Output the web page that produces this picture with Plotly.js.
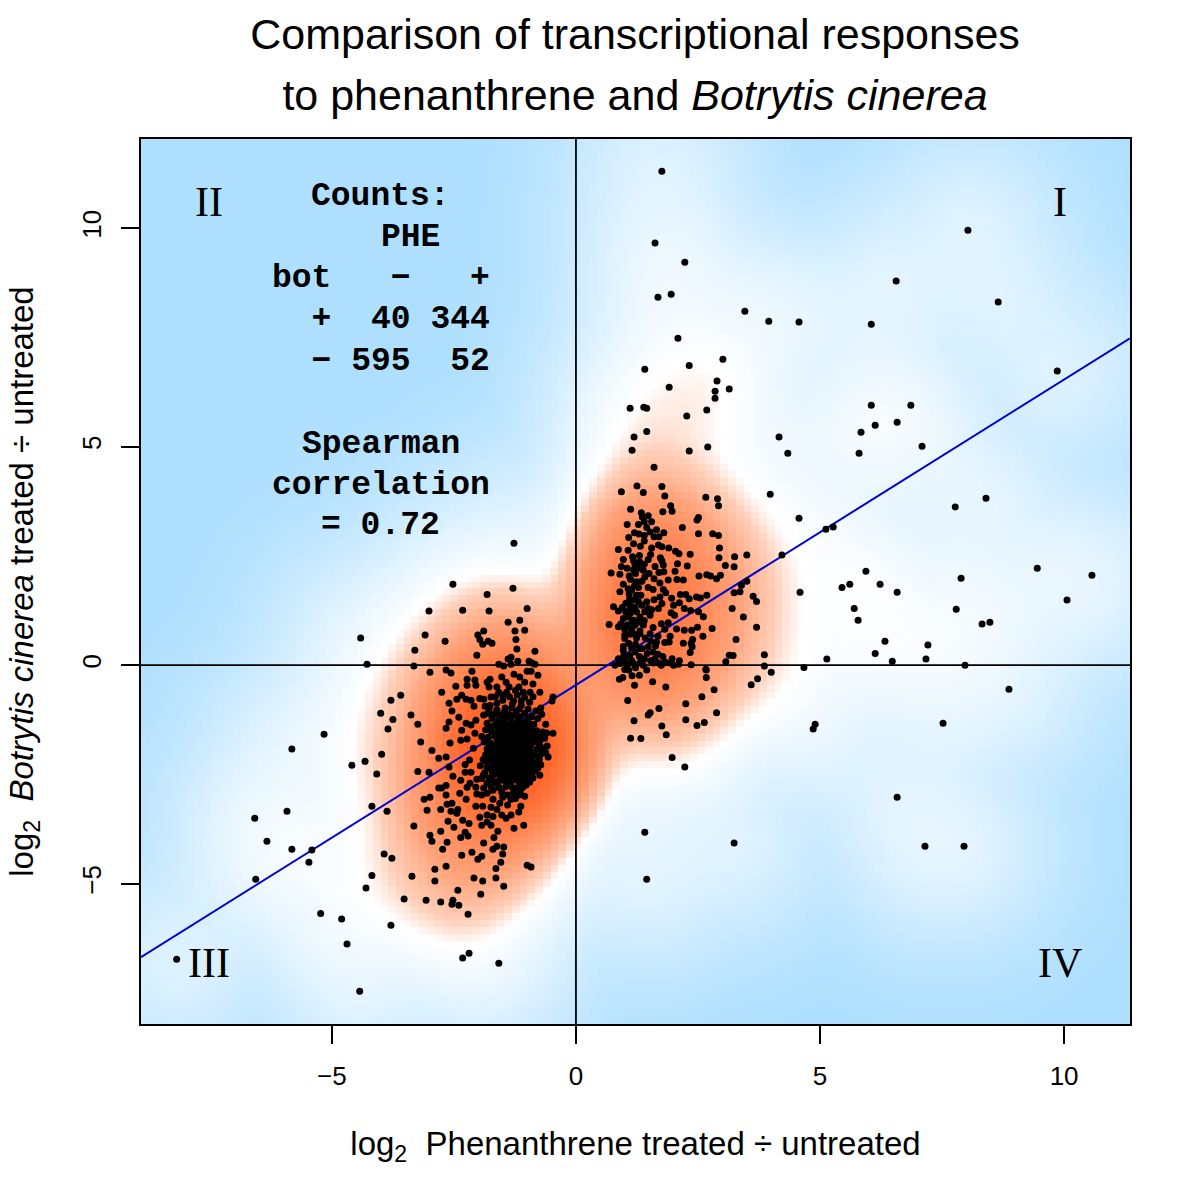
<!DOCTYPE html>
<html><head><meta charset="utf-8">
<script src="https://cdn.plot.ly/plotly-3.0.1.min.js"></script>
<style>html,body{margin:0;padding:0;background:#fff}</style></head>
<body><div id="g" style="width:1200px;height:1200px"></div>
<script>
const sparsePoints=[[1.76,11.30],[1.62,9.66],[2.23,9.22],[1.68,8.42],[1.95,8.49],[6.56,8.79],[8.03,9.95],[8.65,8.31],[3.46,8.10],[3.95,7.87],[4.57,7.85],[6.05,7.80],[2.09,7.48],[2.32,6.86],[1.41,6.77],[3.01,7.00],[9.86,6.73],[2.89,6.50],[3.14,6.32],[1.91,6.36],[2.85,6.27],[2.85,6.11],[2.68,5.84],[2.27,5.70],[1.11,5.88],[1.39,5.90],[1.45,5.88],[1.45,5.35],[1.19,5.22],[1.15,4.92],[2.32,4.90],[2.70,4.99],[1.60,4.53],[4.16,5.22],[4.34,4.85],[6.05,5.95],[5.84,5.33],[6.13,5.49],[6.58,5.56],[6.86,5.95],[7.09,5.01],[5.80,4.85],[3.98,3.91],[4.57,3.36],[7.77,3.62],[8.40,3.82],[5.12,3.11],[5.27,3.16],[4.22,2.52],[4.59,1.67],[9.45,2.22],[10.57,2.06],[10.06,1.49],[5.94,2.15],[5.45,1.78],[5.61,1.85],[6.23,1.85],[6.58,1.67],[7.89,1.99],[7.79,1.28],[5.70,1.30],[5.78,1.03],[8.32,0.94],[8.48,0.98],[6.33,0.55],[6.13,0.27],[7.21,0.46],[6.48,0.09],[7.17,0.14],[7.97,0.0],[5.14,0.14],[4.67,-0.05],[8.87,-0.55],[7.52,-1.33],[4.90,-1.35],[4.86,-1.46],[6.58,-3.02],[7.15,-4.14],[7.95,-4.14],[3.24,-4.07],[1.41,-3.82],[1.45,-4.90],[2.23,-2.33],[1.97,-2.11],[-4.41,0.62],[-4.28,0.02],[-5.82,-1.92],[-5.16,-1.58],[-4.59,-2.29],[-6.58,-3.50],[-5.92,-3.34],[-6.33,-4.03],[-5.82,-4.21],[-5.41,-4.23],[-5.47,-4.51],[-6.56,-4.90],[-5.23,-5.68],[-4.80,-5.81],[-4.69,-6.38],[-3.79,-5.95],[-8.18,-6.73],[-4.43,-7.46],[-2.32,-6.70],[-2.19,-6.59],[-1.58,-6.82],[-4.30,-5.10],[-4.18,-4.81]];
const rightCluster=[[0.93,3.97],[1.25,4.10],[1.38,3.95],[1.76,4.09],[1.82,3.87],[2.66,3.84],[2.90,3.81],[2.92,3.65],[1.12,3.57],[1.94,3.65],[1.97,3.52],[1.78,3.51],[1.34,3.49],[1.36,3.39],[1.40,3.28],[1.55,3.28],[1.05,3.22],[1.45,3.15],[2.51,3.38],[2.48,3.32],[2.18,3.15],[1.65,3.10],[1.80,3.03],[1.20,3.03],[1.29,3.0],[1.40,2.97],[1.08,2.92],[1.60,2.94],[1.70,2.94],[1.40,2.84],[2.51,3.01],[2.80,3.01],[2.92,2.97],[1.69,2.75],[1.76,2.71],[1.90,2.68],[2.94,2.68],[0.87,2.65],[1.07,2.63],[2.04,2.61],[2.11,2.55],[2.34,2.54],[1.53,2.53],[1.30,2.51],[1.16,2.48],[3.50,2.52],[3.25,2.48],[2.93,2.46],[1.73,2.46],[0.97,2.42],[1.18,2.39],[1.31,2.36],[1.76,2.39],[2.08,2.32],[0.93,2.26],[1.21,2.29],[1.40,2.31],[1.79,2.29],[2.28,2.27],[3.06,2.28],[3.24,2.25],[1.80,2.14],[2.03,2.15],[0.72,2.11],[0.90,2.08],[1.22,2.10],[1.38,2.17],[1.50,2.10],[1.41,2.02],[1.09,2.04],[1.12,1.96],[2.52,2.04],[2.68,2.07],[2.76,2.04],[2.88,1.98],[2.96,2.06],[1.89,1.95],[2.07,1.96],[3.50,1.92],[3.39,1.83],[0.97,1.85],[1.24,1.91],[1.07,1.75],[1.14,1.72],[1.28,1.78],[1.48,1.78],[1.58,1.73],[1.79,1.73],[0.90,1.68],[1.09,1.63],[1.24,1.60],[1.33,1.60],[1.84,1.66],[1.72,1.56],[1.96,1.53],[2.14,1.62],[2.25,1.62],[2.32,1.52],[2.47,1.56],[2.55,1.54],[2.68,1.60],[3.24,1.66],[3.36,1.68],[3.63,1.58],[3.70,1.46],[2.12,1.43],[2.00,1.37],[1.76,1.41],[1.45,1.45],[1.11,1.41],[1.28,1.45],[0.77,1.34],[0.87,1.24],[1.11,1.30],[1.21,1.32],[1.35,1.37],[1.55,1.27],[1.69,1.30],[2.51,1.22],[3.20,1.30],[1.11,1.18],[1.24,1.22],[1.41,1.22],[0.97,1.07],[1.07,1.10],[1.52,1.14],[2.02,1.14],[2.61,1.11],[3.43,1.10],[1.18,1.03],[1.31,1.10],[0.68,0.93],[0.87,0.88],[0.92,0.94],[1.21,0.92],[1.38,0.92],[1.58,0.86],[1.75,0.95],[1.89,0.97],[3.70,0.87],[1.00,0.82],[1.14,0.82],[1.31,0.78],[1.52,0.72],[1.82,0.82],[2.06,0.83],[2.22,0.80],[2.37,0.80],[2.49,0.87],[2.79,0.84],[1.00,0.69],[1.11,0.71],[1.31,0.72],[1.68,0.66],[1.93,0.66],[2.60,0.66],[1.00,0.61],[1.65,0.53],[1.82,0.52],[1.91,0.53],[2.39,0.59],[2.36,0.50],[3.28,0.59],[0.97,0.43],[1.14,0.40],[1.31,0.38],[1.48,0.42],[1.63,0.44],[2.38,0.42],[0.97,0.34],[1.21,0.30],[1.35,0.38],[1.46,0.27],[1.58,0.30],[1.68,0.25],[2.34,0.29],[3.14,0.23],[3.22,0.22],[3.86,0.24],[0.87,0.15],[1.00,0.10],[1.14,0.11],[1.97,0.15],[3.07,0.08],[0.80,0.0],[0.90,0.04],[1.05,0.0],[1.18,0.04],[1.31,0.05],[1.53,0.10],[1.58,0.05],[1.69,0.05],[1.82,0.08],[1.93,0.05],[2.10,0.02],[2.36,0.01],[3.86,-0.02],[2.66,-0.09],[1.08,-0.11],[1.45,-0.11],[1.15,-0.24],[1.30,-0.23],[0.89,-0.32],[0.96,-0.28],[1.20,-0.46],[1.57,-0.38],[1.84,-0.50],[2.67,-0.11],[2.67,-0.28],[4.0,-0.16],[3.72,-0.31],[3.59,-0.45],[2.83,-0.56],[2.58,-0.72],[1.06,-0.81],[2.25,-0.88],[1.70,-0.99],[1.52,-1.09],[1.48,-1.14],[2.88,-1.09],[1.19,-1.27],[2.25,-1.25],[2.63,-1.31],[2.48,-1.38],[1.76,-1.39],[1.85,-1.59],[1.12,-1.67],[1.33,-1.68]];
const leftCluster=[[-1.27,2.79],[-2.52,1.85],[-1.82,1.62],[-1.29,1.76],[-3.01,1.24],[-2.32,1.26],[-1.78,1.24],[-1.0,1.30],[-1.39,0.98],[-1.15,1.03],[-1.25,0.78],[-1.05,0.80],[-1.89,0.78],[-2.01,0.69],[-1.97,0.59],[-1.91,0.48],[-1.80,0.55],[-1.72,0.50],[-1.23,0.59],[-1.21,0.37],[-0.84,0.32],[-3.09,0.69],[-2.68,0.55],[-3.30,0.34],[-2.03,0.23],[-3.32,-0.02],[-2.99,-0.16],[-2.66,-0.11],[-2.56,-0.18],[-2.13,-0.14],[-1.39,0.14],[-1.33,0.18],[-1.19,0.09],[-1.58,0.02],[-1.48,-0.02],[-1.33,0.02],[-0.96,0.09],[-0.90,0.05],[-0.84,0.02],[-1.0,-0.14],[-0.92,-0.14],[-0.78,-0.23],[-1.27,-0.21],[-1.15,-0.27],[-1.52,-0.27],[-1.76,-0.32],[-2.23,-0.32],[-2.07,-0.34],[-2.46,-0.48],[-2.23,-0.46],[-2.05,-0.46],[-1.82,-0.39],[-1.78,-0.50],[-1.62,-0.50],[-1.43,-0.39],[-1.37,-0.50],[-1.05,-0.39],[-0.88,-0.43],[-1.17,-0.50],[-0.94,-0.62],[-0.74,-0.62],[-2.75,-0.62],[-3.59,-0.69],[-3.79,-0.80],[-4.0,-1.10],[-3.75,-1.24],[-3.85,-1.46],[-3.38,-1.14],[-3.24,-1.35],[-3.18,-1.76],[-3.98,-2.04],[-4.32,-2.20],[-2.95,-1.95],[-2.81,-2.13],[-2.66,-2.10],[-2.58,-1.78],[-2.60,-0.87],[-2.54,-1.05],[-2.40,-1.19],[-2.60,-1.30],[-2.66,-1.44],[-2.44,-0.78],[-2.34,-0.69],[-2.25,-0.78],[-2.15,-0.80],[-2.09,-0.94],[-1.97,-0.76],[-1.89,-0.78],[-1.74,-0.73],[-1.86,-0.94],[-1.76,-0.92],[-1.62,-0.87],[-1.50,-0.69],[-2.05,-1.26],[-2.25,-1.33],[-2.15,-1.37],[-2.34,-1.49],[-2.36,-1.72],[-2.23,-1.69],[-2.07,-1.56],[-1.89,-1.14],[-1.80,-1.10],[-4.08,-2.49],[-3.24,-2.43],[-3.01,-2.45],[-4.18,-3.23],[-3.87,-3.34],[-2.60,-2.33],[-2.52,-2.54],[-2.27,-2.27],[-2.27,-2.45],[-2.36,-2.63],[-2.81,-2.81],[-2.66,-2.75],[-2.75,-2.81],[-2.66,-2.97],[-2.38,-2.93],[-2.25,-3.07],[-3.11,-3.07],[-2.99,-3.02],[-3.05,-3.32],[-2.77,-3.30],[-2.64,-3.18],[-2.54,-3.16],[-2.56,-3.34],[-2.42,-3.30],[-2.44,-3.39],[-3.32,-3.68],[-2.62,-3.57],[-2.50,-3.71],[-2.32,-3.55],[-2.19,-3.62],[-2.77,-3.80],[-2.27,-3.82],[-2.21,-3.91],[-2.36,-3.94],[-2.99,-3.89],[-2.95,-4.03],[-2.64,-4.05],[-2.73,-4.21],[-2.34,-4.35],[-2.13,-4.28],[-2.01,-4.44],[-1.93,-4.37],[-1.89,-4.07],[-1.68,-3.94],[-1.60,-3.80],[-1.70,-4.21],[-1.62,-4.14],[-1.48,-4.16],[-1.50,-4.32],[-1.54,-4.51],[-1.64,-4.65],[-1.0,-4.58],[-0.92,-4.62],[-1.27,-3.73],[-1.07,-3.66],[-3.93,-4.32],[-3.77,-4.42],[-3.36,-4.83],[-2.89,-4.67],[-2.66,-4.60],[-2.89,-4.94],[-2.09,-4.87],[-1.91,-4.94],[-1.64,-4.87],[-1.48,-5.06],[-2.42,-5.15],[-1.95,-5.24],[-3.52,-5.35],[-3.07,-5.38],[-2.77,-5.42],[-2.52,-5.38],[-2.54,-5.47],[-2.40,-5.49],[-2.21,-5.70],[-2.05,-3.23],[-1.91,-3.23],[-1.74,-3.25],[-1.97,-3.48],[-1.82,-3.43],[-1.70,-3.46],[-1.52,-3.43],[-1.43,-3.50],[-1.33,-3.43],[-1.17,-3.36],[-1.93,-3.66],[-1.82,-3.59],[-1.74,-3.66],[-1.70,-3.07],[-1.56,-3.16],[-1.41,-2.97],[-1.33,-3.07],[-1.17,-2.97],[-1.05,-3.0],[-1.13,-3.23],[-2.05,-2.79],[-1.89,-2.81],[-2.03,-2.95],[-1.93,-2.97],[-1.82,-2.93],[-2.23,-2.79],[-2.17,-2.70],[-2.03,-2.61],[-1.93,-2.59],[-1.82,-2.70],[-1.66,-2.68],[-1.60,-2.72],[-1.52,-2.91],[-1.39,-2.68],[-1.21,-2.81],[-1.09,-2.79],[-0.74,-2.52],[-0.78,-2.36],[-0.57,-2.10],[-0.59,-1.85],[-0.74,-1.85],[-0.88,-2.22],[-0.90,-2.47],[-0.47,-1.56],[-0.49,-0.82],[-0.47,-0.73],[-0.64,-1.67],[-0.68,-1.53],[-0.72,-0.98]];
const densePoints=[[-1.62,-1.02],[-1.45,-0.98],[-1.30,-0.88],[-1.12,-0.92],[-0.95,-0.85],[-0.82,-1.05],[-1.55,-1.15],[-1.38,-1.12],[-1.22,-1.05],[-1.05,-1.10],[-0.9,-1.18],[-0.78,-1.22],[-1.72,-1.22],[-1.6,-1.28],[-1.47,-1.25],[-1.33,-1.22],[-1.18,-1.25],[-1.02,-1.28],[-0.86,-1.35],[-1.82,-1.33],[-1.68,-1.38],[-1.52,-1.4],[-1.4,-1.35],[-1.26,-1.4],[-1.1,-1.42],[-0.96,-1.45],[-0.8,-1.5],[-1.85,-1.48],[-1.73,-1.52],[-1.6,-1.5],[-1.46,-1.55],[-1.32,-1.52],[-1.2,-1.56],[-1.05,-1.58],[-0.9,-1.6],[-0.76,-1.65],[-1.93,-1.63],[-1.8,-1.65],[-1.66,-1.62],[-1.54,-1.66],[-1.4,-1.65],[-1.27,-1.68],[-1.13,-1.7],[-1.0,-1.72],[-0.85,-1.75],[-1.88,-1.76],[-1.75,-1.78],[-1.6,-1.76],[-1.47,-1.8],[-1.34,-1.78],[-1.2,-1.82],[-1.08,-1.84],[-0.93,-1.85],[-0.8,-1.92],[-2.1,-1.9],[-1.82,-1.92],[-1.68,-1.88],[-1.55,-1.92],[-1.42,-1.9],[-1.28,-1.94],[-1.15,-1.96],[-1.0,-1.98],[-0.86,-2.0],[-0.7,-2.02],[-1.85,-2.05],[-1.72,-2.02],[-1.58,-2.06],[-1.45,-2.04],[-1.32,-2.07],[-1.18,-2.08],[-1.04,-2.1],[-0.9,-2.12],[-0.75,-2.15],[-2.18,-2.17],[-1.9,-2.16],[-1.76,-2.2],[-1.62,-2.17],[-1.5,-2.2],[-1.36,-2.18],[-1.22,-2.22],[-1.08,-2.22],[-0.95,-2.26],[-0.8,-2.28],[-1.96,-2.3],[-1.82,-2.34],[-1.68,-2.3],[-1.54,-2.34],[-1.4,-2.32],[-1.27,-2.35],[-1.12,-2.36],[-0.98,-2.4],[-0.84,-2.42],[-2.15,-2.45],[-1.87,-2.46],[-1.72,-2.44],[-1.6,-2.48],[-1.45,-2.45],[-1.32,-2.5],[-1.18,-2.5],[-1.04,-2.53],[-0.88,-2.58],[-1.78,-2.58],[-1.55,-2.6],[-1.38,-2.56],[-1.24,-2.62],[-1.1,-2.64],[-0.95,-2.68],[-1.7,-2.86],[-1.28,-2.92],[-1.48,-1.08],[-1.7,-1.12],[-1.12,-1.32],[-1.35,-1.45],[-1.5,-1.62],[-1.22,-1.6],[-1.42,-1.72],[-1.62,-1.68],[-1.12,-1.88],[-1.36,-1.98],[-1.52,-1.98],[-1.7,-1.96],[-1.26,-2.12],[-1.42,-2.12],[-1.6,-2.12],[-1.12,-2.14],[-1.3,-2.26],[-1.48,-2.26],[-1.18,-2.42],[-1.38,-2.4],[-1.55,-2.42]];
const solidCore=[[-1.55,-1.55],[-1.43,-1.6],[-1.37,-1.58],[-1.29,-1.62],[-1.16,-1.63],[-1.08,-1.66],[-1.58,-1.72],[-1.49,-1.74],[-1.38,-1.76],[-1.31,-1.72],[-1.24,-1.75],[-1.17,-1.77],[-1.05,-1.78],[-0.97,-1.8],[-1.64,-1.82],[-1.56,-1.84],[-1.5,-1.86],[-1.4,-1.84],[-1.33,-1.87],[-1.26,-1.85],[-1.18,-1.88],[-1.03,-1.9],[-0.96,-1.92],[-1.77,-1.85],[-1.6,-1.95],[-1.46,-1.95],[-1.4,-1.98],[-1.31,-1.99],[-1.22,-1.99],[-1.08,-2.0],[-0.92,-2.04],[-1.78,-2.08],[-1.66,-2.08],[-1.52,-2.1],[-1.38,-2.08],[-1.34,-2.14],[-1.2,-2.14],[-1.07,-2.15],[-0.97,-2.16],[-1.84,-2.2],[-1.68,-2.22],[-1.56,-2.24],[-1.44,-2.21],[-1.39,-2.26],[-1.25,-2.27],[-1.17,-2.28],[-1.02,-2.3],[-0.88,-2.33],[-1.75,-2.36],[-1.62,-2.38],[-1.47,-2.36],[-1.35,-2.38],[-1.22,-2.4],[-1.08,-2.42],[-0.93,-2.46],[-1.68,-2.5],[-1.53,-2.52],[-1.42,-2.5],[-1.27,-2.55],[-1.12,-2.57],[-0.99,-2.6],[-1.9,-2.52],[-1.72,-2.62],[-1.47,-2.64],[-1.33,-2.66],[-1.16,-2.7],[-1.02,-2.74],[-1.58,-2.8],[-1.44,-2.78],[-1.3,-2.8],[-1.74,-2.78],[-1.14,-2.88],[-1.5,-3.02],[-1.24,-3.05],[-1.62,-3.3],[-1.4,-3.2],[-1.62,-1.12],[-1.42,-1.18],[-1.28,-1.15],[-1.15,-1.18],[-0.98,-1.22],[-1.76,-1.42],[-1.58,-1.42],[-1.46,-1.42],[-1.2,-1.45],[-1.04,-1.48],[-0.88,-1.5],[-1.33,-1.36],[-0.93,-1.68],[-0.75,-1.78],[-0.67,-1.9],[-0.62,-2.0],[-0.8,-2.08],[-0.72,-2.28],[-1.5,-0.8],[-1.36,-0.72],[-1.2,-0.68],[-1.05,-0.74],[-0.88,-0.72],[-1.28,-0.82],[-1.12,-0.82],[-0.98,-1.0],[-1.65,-0.72],[-1.42,-0.62],[-1.24,-0.58],[-1.08,-0.62],[-1.58,-0.62],[-1.32,-0.98],[-1.16,-1.0],[-0.7,-1.12],[-0.62,-1.35],[-0.6,-1.55],[-0.7,-1.68],[-1.78,-1.0],[-1.6,-2.66],[-1.34,-1.68],[-1.2,-1.68],[-1.46,-1.68],[-1.3,-1.8],[-1.14,-1.82],[-1.42,-1.92],[-1.25,-1.92],[-1.1,-1.93],[-1.5,-2.0],[-1.3,-2.18],[-1.14,-2.2],[-1.5,-2.14],[-1.4,-2.18],[-1.24,-2.06],[-1.14,-2.02],[-1.02,-2.04],[-1.32,-2.32],[-1.16,-2.34],[-1.42,-2.44],[-1.26,-2.46],[-1.1,-2.47],[-1.02,-2.18],[-1.6,-2.28],[-1.7,-2.12],[-1.66,-2.0],[-1.58,-1.6],[-1.1,-1.55],[-0.98,-1.6],[-0.85,-1.62],[-1.16,-1.48],[-1.3,-1.46],[-1.44,-1.48],[-0.93,-1.35],[-1.06,-1.36],[-1.22,-1.32],[-1.48,-1.32]];
const extraRight=[[1.10,1.52],[1.20,1.50],[1.02,1.42],[0.95,1.32],[1.02,1.22],[1.15,0.98],[1.27,0.98],[1.05,0.92],[1.18,0.72],[1.24,0.62],[1.08,0.50],[1.22,0.48],[1.42,0.62],[1.53,0.55],[1.40,1.02],[1.48,1.30],[1.20,1.82],[1.35,1.92],[1.18,2.18],[1.05,2.22],[1.28,2.22],[1.48,2.42],[1.62,2.26],[1.70,2.12],[1.60,1.98],[1.72,1.88],[2.20,0.50],[1.78,0.20],[2.12,0.10],[1.30,0.20],[1.10,0.22],[0.98,0.22],[1.40,0.15],[1.62,0.15],[1.22,-0.06],[1.38,0.0],[1.75,0.0],[2.0,0.0],[1.00,-0.10],[1.55,2.68],[1.32,2.72],[1.18,2.78],[1.48,3.42],[1.28,3.22],[1.52,3.05],[2.20,1.95],[2.22,1.30],[1.95,1.20],[2.35,1.25],[1.60,1.50]];
const xRange=[-8.91,11.35], yRange=[-8.21,12.04];
const xTicks=[-5,0,5,10], yTicks=[-5,0,5,10];
const fitLineX=[-8.91,11.35], fitLineY=[-6.68,7.48];
const allPoints=sparsePoints.concat(rightCluster,extraRight,leftCluster,densePoints,solidCore);
const px=allPoints.map(p=>p[0]), py=allPoints.map(p=>p[1]);

// density surface computed from the points above, as smoothScatter does
const NB=128, BWX=0.76, BWY=0.88;
const gx=[],gy=[];
for(let i=0;i<NB;i++){gx.push(xRange[0]+(i+.5)*(xRange[1]-xRange[0])/NB);gy.push(yRange[0]+(i+.5)*(yRange[1]-yRange[0])/NB);}
let z=gy.map(y=>gx.map(x=>{let s=0;for(let k=0;k<px.length;k++){const a=(x-px[k])/BWX,b=(y-py[k])/BWY;s+=Math.exp(-.5*(a*a+b*b));}return s;}));
let mx=0;z.forEach(r=>r.forEach(v=>{if(v>mx)mx=v;}));
z=z.map(r=>r.map(v=>Math.pow(v/mx,0.25)));

const heat={type:'heatmap',x:gx,y:gy,z:z,zmin:0,zmax:1,zsmooth:false,showscale:false,hoverinfo:'skip',
 colorscale:[[0,'#AEDFFF'],[0.425,'#FFFFFF'],[0.49,'#FFCFB8'],[0.6,'#FFA47C'],[0.76,'#FF7F4A'],[0.92,'#FF5F22'],[1,'#FF5A1E']]};
const vline={type:'scatter',mode:'lines',x:[0,0],y:yRange,line:{color:'#000',width:1.8},hoverinfo:'skip'};
const hline={type:'scatter',mode:'lines',x:xRange,y:[0,0],line:{color:'#000',width:1.8},hoverinfo:'skip'};
const fit={type:'scatter',mode:'lines',x:fitLineX,y:fitLineY,line:{color:'#0000CD',width:2},hoverinfo:'skip'};
const pts={type:'scatter',mode:'markers',x:px,y:py,marker:{color:'#000',size:7,line:{width:0}},hoverinfo:'skip'};

const mono={family:'"Liberation Mono",monospace',size:33,color:'#000'};
const serif={family:'"Liberation Serif",serif',size:42,color:'#000'};
const t=(x,y,text,font)=>({x,y,text,font:Object.assign({},font,{weight:'bold'}),showarrow:false,xanchor:'center',yanchor:'middle',xref:'x',yref:'y'});
const q=(x,y,text)=>({x,y,text,font:serif,showarrow:false,xanchor:'center',yanchor:'middle',xref:'x',yref:'y'});
const legendLines=[[-4.0,10.72,'Counts:'],[-3.38,9.78,'PHE'],[-4.0,8.84,'bot   −   +'],[-4.0,7.90,'  +  40 344'],[-4.0,6.96,'  − 595  52'],[-4.0,5.06,'Spearman'],[-4.0,4.12,'correlation'],[-4.0,3.19,'= 0.72']];
const annotations=legendLines.map(l=>t(l[0],l[1],l[2],mono)).concat([q(-7.52,10.6,'II'),q(9.92,10.6,'I'),q(-7.52,-6.82,'III'),q(9.92,-6.82,'IV')]);

const sans='"Liberation Sans",Arial,sans-serif';
const layout={width:1200,height:1200,margin:{l:141,r:70,t:139,b:176,pad:0},paper_bgcolor:'#fff',plot_bgcolor:'#fff',showlegend:false,
 title:{text:'<span style="font-size:43px">Comparison of transcriptional responses</span><br><span style="font-size:43px">to phenanthrene and <i>Botrytis cinerea</i></span>',
  font:{family:sans,size:47,color:'#000'},x:635/1200,xanchor:'center',xref:'container',y:0.959,yref:'container',yanchor:'top'},
 xaxis:{range:xRange,tickvals:xTicks,ticks:'outside',ticklen:18,tickwidth:1.8,tickcolor:'#000',ticklabelstandoff:10,showgrid:false,zeroline:false,showline:true,linecolor:'#000',linewidth:1.8,mirror:true,
  tickfont:{family:sans,size:26,color:'#000'},title:{text:'log<sub>2</sub>  Phenanthrene treated ÷ untreated',font:{family:sans,size:33,color:'#000'},standoff:42}},
 yaxis:{range:yRange,tickvals:yTicks,ticks:'outside',ticklen:18,tickwidth:1.8,tickcolor:'#000',ticklabelstandoff:10,showgrid:false,zeroline:false,showline:true,linecolor:'#000',linewidth:1.8,mirror:true,tickangle:-90,
  tickfont:{family:sans,size:26,color:'#000'},title:{text:'log<sub>2</sub>  <i>Botrytis cinerea</i> treated ÷ untreated',font:{family:sans,size:33,color:'#000'},standoff:33}},
 annotations};
Plotly.newPlot('g',[heat,vline,hline,fit,pts],layout,{displayModeBar:false,staticPlot:true});
</script></body></html>
